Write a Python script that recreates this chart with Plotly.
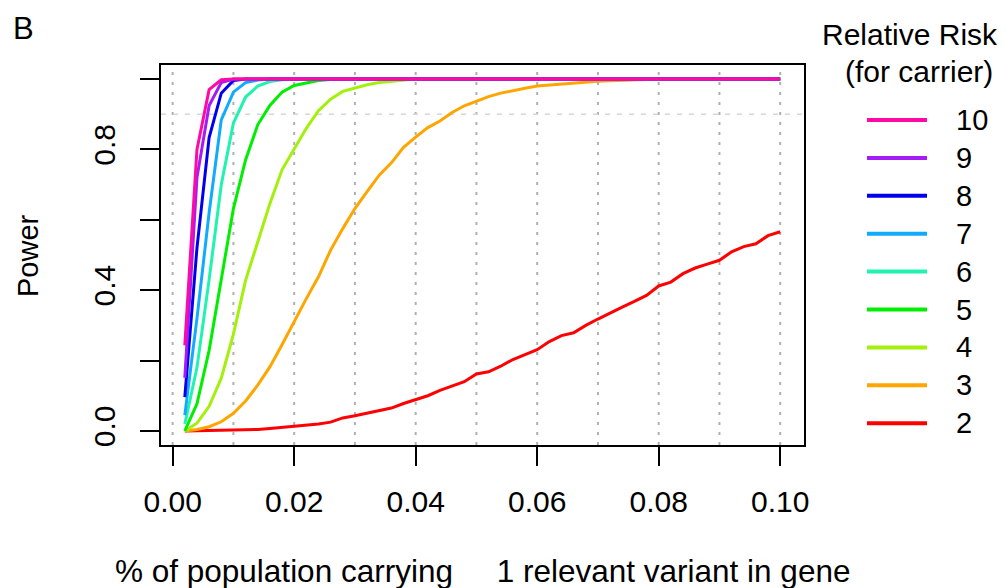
import plotly.graph_objects as go

# carrier frequency grid (proportion of population carrying a variant)
carrier_freq = [0.002, 0.004, 0.006, 0.008, 0.010, 0.012, 0.014, 0.016, 0.018, 0.020,
                0.022, 0.024, 0.026, 0.028, 0.030, 0.032, 0.034, 0.036, 0.038, 0.040,
                0.042, 0.044, 0.046, 0.048, 0.050, 0.052, 0.054, 0.056, 0.058, 0.060,
                0.062, 0.064, 0.066, 0.068, 0.070, 0.072, 0.074, 0.076, 0.078, 0.080,
                0.082, 0.084, 0.086, 0.088, 0.090, 0.092, 0.094, 0.096, 0.098, 0.100]

# simulated power for each relative risk
power_rr2 = [0.0, 0.0005, 0.001, 0.0015, 0.002, 0.003, 0.004, 0.0066, 0.010, 0.013,
             0.016, 0.020, 0.025, 0.037, 0.043, 0.050, 0.057, 0.065, 0.078, 0.090,
             0.100, 0.115, 0.127, 0.140, 0.162, 0.168, 0.184, 0.203, 0.217, 0.231,
             0.254, 0.271, 0.279, 0.300, 0.318, 0.336, 0.352, 0.368, 0.385, 0.412,
             0.423, 0.447, 0.463, 0.474, 0.485, 0.509, 0.524, 0.532, 0.555, 0.566]
power_rr3 = [0.0, 0.004, 0.012, 0.026, 0.050, 0.085, 0.130, 0.182, 0.245, 0.312,
             0.376, 0.438, 0.514, 0.575, 0.632, 0.680, 0.727, 0.762, 0.806, 0.835,
             0.862, 0.881, 0.905, 0.924, 0.938, 0.950, 0.960, 0.968, 0.974, 0.980,
             0.983, 0.986, 0.990, 0.992, 0.994, 0.995, 0.997, 0.998, 0.999, 1.0,
             1.0, 1.0, 1.0, 1.0, 1.0, 1.0, 1.0, 1.0, 1.0, 1.0]
power_rr4 = [0.0, 0.022, 0.070, 0.150, 0.275, 0.428, 0.537, 0.646, 0.742, 0.800,
             0.860, 0.910, 0.943, 0.965, 0.974, 0.984, 0.990, 0.994, 0.997, 1.0,
             1.0, 1.0, 1.0, 1.0, 1.0, 1.0, 1.0, 1.0, 1.0, 1.0,
             1.0, 1.0, 1.0, 1.0, 1.0, 1.0, 1.0, 1.0, 1.0, 1.0,
             1.0, 1.0, 1.0, 1.0, 1.0, 1.0, 1.0, 1.0, 1.0, 1.0]
power_rr5 = [0.0, 0.077, 0.229, 0.430, 0.632, 0.770, 0.870, 0.925, 0.963, 0.982,
             0.990, 0.996, 0.999, 1.0, 1.0, 1.0, 1.0, 1.0, 1.0, 1.0,
             1.0, 1.0, 1.0, 1.0, 1.0, 1.0, 1.0, 1.0, 1.0, 1.0,
             1.0, 1.0, 1.0, 1.0, 1.0, 1.0, 1.0, 1.0, 1.0, 1.0,
             1.0, 1.0, 1.0, 1.0, 1.0, 1.0, 1.0, 1.0, 1.0, 1.0]
power_rr6 = [0.020, 0.180, 0.430, 0.700, 0.875, 0.949, 0.980, 0.993, 0.998, 1.0,
             1.0, 1.0, 1.0, 1.0, 1.0, 1.0, 1.0, 1.0, 1.0, 1.0,
             1.0, 1.0, 1.0, 1.0, 1.0, 1.0, 1.0, 1.0, 1.0, 1.0,
             1.0, 1.0, 1.0, 1.0, 1.0, 1.0, 1.0, 1.0, 1.0, 1.0,
             1.0, 1.0, 1.0, 1.0, 1.0, 1.0, 1.0, 1.0, 1.0, 1.0]
power_rr7 = [0.045, 0.320, 0.620, 0.884, 0.963, 0.990, 0.997, 1.0, 1.0, 1.0,
             1.0, 1.0, 1.0, 1.0, 1.0, 1.0, 1.0, 1.0, 1.0, 1.0,
             1.0, 1.0, 1.0, 1.0, 1.0, 1.0, 1.0, 1.0, 1.0, 1.0,
             1.0, 1.0, 1.0, 1.0, 1.0, 1.0, 1.0, 1.0, 1.0, 1.0,
             1.0, 1.0, 1.0, 1.0, 1.0, 1.0, 1.0, 1.0, 1.0, 1.0]
power_rr8 = [0.096, 0.520, 0.834, 0.960, 0.996, 1.0, 1.0, 1.0, 1.0, 1.0,
             1.0, 1.0, 1.0, 1.0, 1.0, 1.0, 1.0, 1.0, 1.0, 1.0,
             1.0, 1.0, 1.0, 1.0, 1.0, 1.0, 1.0, 1.0, 1.0, 1.0,
             1.0, 1.0, 1.0, 1.0, 1.0, 1.0, 1.0, 1.0, 1.0, 1.0,
             1.0, 1.0, 1.0, 1.0, 1.0, 1.0, 1.0, 1.0, 1.0, 1.0]
power_rr9 = [0.151, 0.720, 0.925, 0.990, 1.0, 1.0, 1.0, 1.0, 1.0, 1.0,
             1.0, 1.0, 1.0, 1.0, 1.0, 1.0, 1.0, 1.0, 1.0, 1.0,
             1.0, 1.0, 1.0, 1.0, 1.0, 1.0, 1.0, 1.0, 1.0, 1.0,
             1.0, 1.0, 1.0, 1.0, 1.0, 1.0, 1.0, 1.0, 1.0, 1.0,
             1.0, 1.0, 1.0, 1.0, 1.0, 1.0, 1.0, 1.0, 1.0, 1.0]
power_rr10 = [0.243, 0.800, 0.970, 0.998, 1.0, 1.0, 1.0, 1.0, 1.0, 1.0,
              1.0, 1.0, 1.0, 1.0, 1.0, 1.0, 1.0, 1.0, 1.0, 1.0,
              1.0, 1.0, 1.0, 1.0, 1.0, 1.0, 1.0, 1.0, 1.0, 1.0,
              1.0, 1.0, 1.0, 1.0, 1.0, 1.0, 1.0, 1.0, 1.0, 1.0,
              1.0, 1.0, 1.0, 1.0, 1.0, 1.0, 1.0, 1.0, 1.0, 1.0]

relative_risks = [2, 3, 4, 5, 6, 7, 8, 9, 10]
power_series = [power_rr2, power_rr3, power_rr4, power_rr5, power_rr6,
                power_rr7, power_rr8, power_rr9, power_rr10]
line_colors = ["#ff0000", "#ffa500", "#a2f00c", "#00ee00", "#20f2b0",
               "#12aaff", "#0000ee", "#a41cf6", "#ff0aa5"]

x_tick_vals = [0.00, 0.02, 0.04, 0.06, 0.08, 0.10]
x_tick_text = ["0.00", "0.02", "0.04", "0.06", "0.08", "0.10"]
y_tick_vals = [0.0, 0.2, 0.4, 0.6, 0.8, 1.0]
y_tick_text = ["0.0", "", "0.4", "", "0.8", ""]
grid_x = [0.00, 0.01, 0.02, 0.03, 0.04, 0.05, 0.06, 0.07, 0.08, 0.09, 0.10]
power_target = 0.9

FONT = "Liberation Sans, Arial, Helvetica, sans-serif"
W, H = 1006, 588
PL, PR, PT, PB = 161, 804, 65, 445  # plot-area edges in pixels


def fx(px):
    return (px - PL) / (PR - PL)


def fy(py):
    return (PB - py) / (PB - PT)


fig = go.Figure()

for rr, ys, col in zip(relative_risks, power_series, line_colors):
    fig.add_trace(go.Scatter(
        x=carrier_freq, y=ys, mode="lines", name=str(rr),
        line=dict(color=col, width=3), showlegend=False,
    ))

shapes = []
for gx in grid_x:
    shapes.append(dict(type="line", xref="x", yref="paper", x0=gx, x1=gx, y0=0, y1=1,
                       line=dict(color="#b0b0b0", width=2, dash="3px,7px"), layer="below"))
shapes.append(dict(type="line", xref="paper", yref="y", x0=0, x1=1,
                   y0=power_target, y1=power_target,
                   line=dict(color="#d6d6d6", width=1.5, dash="5px,7px"), layer="below"))

annotations = [
    dict(text="B", x=fx(11), y=fy(29), xref="paper", yref="paper",
         xanchor="left", yanchor="middle", showarrow=False,
         font=dict(size=31, color="black", family=FONT)),
    dict(text="Power", x=fx(28), y=fy(256), xref="paper", yref="paper", textangle=-90,
         xanchor="center", yanchor="middle", showarrow=False,
         font=dict(size=29, color="black", family=FONT)),
    dict(text="% of population carrying\u00a0\u00a0\u00a0\u00a0\u00a01 relevant variant in gene",
         x=fx(482), y=fy(571), xref="paper", yref="paper",
         xanchor="center", yanchor="middle", showarrow=False,
         font=dict(size=31.5, color="black", family=FONT)),
    dict(text="Relative Risk", x=fx(910), y=fy(34), xref="paper", yref="paper",
         xanchor="center", yanchor="middle", showarrow=False,
         font=dict(size=30, color="black", family=FONT)),
    dict(text="(for carrier)", x=fx(919), y=fy(71), xref="paper", yref="paper",
         xanchor="center", yanchor="middle", showarrow=False,
         font=dict(size=30, color="black", family=FONT)),
]

# legend: highest relative risk first
leg_top, leg_step = 120, 37.9
for i, (rr, col) in enumerate(zip(relative_risks[::-1], line_colors[::-1])):
    yy = leg_top + i * leg_step
    shapes.append(dict(type="line", xref="paper", yref="paper",
                       x0=fx(867), x1=fx(927), y0=fy(yy), y1=fy(yy),
                       line=dict(color=col, width=4)))
    annotations.append(dict(text=str(rr), x=fx(954), y=fy(yy), xref="paper", yref="paper",
                            xanchor="left", yanchor="middle", showarrow=False,
                            font=dict(size=29, color="black", family=FONT)))

axis_common = dict(showline=True, mirror=True, linecolor="black", linewidth=2,
                   ticks="outside", ticklen=19, tickwidth=1.5, tickcolor="black",
                   showgrid=False, zeroline=False,
                   tickfont=dict(size=30, color="black", family=FONT))

fig.update_layout(
    width=W, height=H,
    margin=dict(l=PL, r=W - PR, t=PT, b=H - PB),
    paper_bgcolor="white", plot_bgcolor="white",
    xaxis=dict(range=[-0.00192, 0.10392], tickvals=x_tick_vals, ticktext=x_tick_text,
               ticklabelstandoff=10, **axis_common),
    yaxis=dict(range=[-0.04, 1.04], tickvals=y_tick_vals, ticktext=y_tick_text,
               tickangle=-90, ticklabelstandoff=13, **axis_common),
    shapes=shapes, annotations=annotations,
    font=dict(family=FONT, color="black"),
)

fig.write_html("out.html")
